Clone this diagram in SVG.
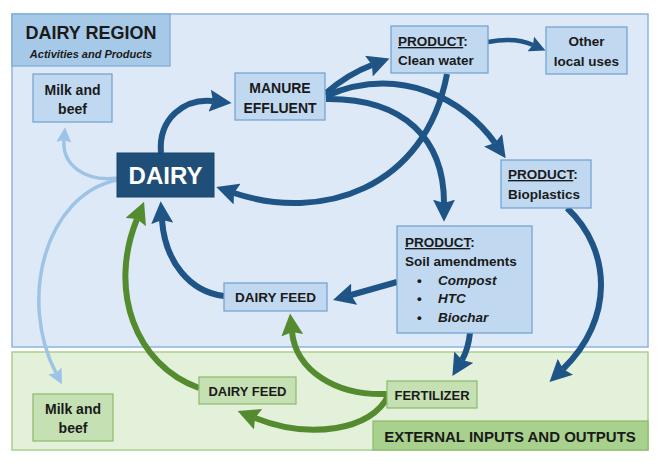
<svg xmlns="http://www.w3.org/2000/svg" width="660" height="468" viewBox="0 0 660 468">
<defs>
<style>
text{font-family:"Liberation Sans",Arial,sans-serif;font-weight:bold;fill:#1a1a1a;}
.c{text-anchor:middle;}
.region-blue{fill:#dde9f6;stroke:#8db5dc;stroke-width:1.5;}
.region-green{fill:#e3f0da;stroke:#a9cf8f;stroke-width:1.5;}
.node{fill:#c0d9f0;stroke:#6e9fd0;stroke-width:1.2;}
.gnode{fill:#c5e0b3;stroke:#8ab96b;stroke-width:1.2;}
.dk{fill:none;stroke:#1f5486;stroke-width:6;}
.dks{fill:none;stroke:#1f5486;stroke-width:4.5;}
.gr{fill:none;stroke:#558b2f;stroke-width:6;}
.lb{fill:none;stroke:#9dc3e6;stroke-width:3.5;}
</style>
<marker id="ahB" viewBox="0 0 20 20" markerUnits="userSpaceOnUse" markerWidth="22" markerHeight="22" refX="3" refY="10" orient="auto"><path d="M0,0 L20,10 L0,20 L3,10 z" fill="#1f5486"/></marker>
<marker id="ahBs" viewBox="0 0 20 20" markerUnits="userSpaceOnUse" markerWidth="16" markerHeight="16" refX="3" refY="10" orient="auto"><path d="M0,0 L20,10 L0,20 L3,10 z" fill="#1f5486"/></marker>
<marker id="ahG" viewBox="0 0 20 20" markerUnits="userSpaceOnUse" markerWidth="22" markerHeight="22" refX="3" refY="10" orient="auto"><path d="M0,0 L20,10 L0,20 L3,10 z" fill="#558b2f"/></marker>
<marker id="ahL" viewBox="0 0 20 20" markerUnits="userSpaceOnUse" markerWidth="15" markerHeight="15" refX="3" refY="10" orient="auto"><path d="M0,0 L20,10 L0,20 L3,10 z" fill="#9dc3e6"/></marker>
</defs>
<rect width="660" height="468" fill="#ffffff"/>
<g id="regions">
<rect class="region-blue" x="12" y="14" width="636" height="333"/>
<rect class="region-green" x="12" y="352" width="636" height="98"/>
</g>
<g id="dairy-region-label">
<rect x="12" y="14" width="158" height="52" fill="#a7c9e8" stroke="#7aaad6" stroke-width="1.2"/>
<text x="91" y="39" class="c" font-size="18">DAIRY REGION</text>
<text x="91" y="58" class="c" font-size="11" font-style="italic">Activities and Products</text>
</g>
<g id="external-label">
<rect x="373" y="421" width="275" height="29" fill="#a9d18e" stroke="#8ab96b" stroke-width="1.2"/>
<text x="510" y="442" class="c" font-size="15">EXTERNAL INPUTS AND OUTPUTS</text>
</g>
<g id="connectors">
<path class="dk" d="M161,153 C158,118 185,98 213,101" marker-end="url(#ahB)"/>
<path class="dk" d="M326,93 Q348,74 372,65" marker-end="url(#ahB)"/>
<path class="dks" d="M488,42 Q515,37 533,45" marker-end="url(#ahBs)"/>
<path class="dk" d="M326,96 C400,64 465,100 495,143" marker-end="url(#ahB)"/>
<path class="dk" d="M326,99 C405,98 444,140 444,203" marker-end="url(#ahB)"/>
<path class="dk" d="M447,74 C425,190 320,222 234,193" marker-end="url(#ahB)"/>
<path class="dk" d="M397,282 Q376,288 351,295" marker-end="url(#ahB)"/>
<path class="dk" d="M224,296 C190,292 165,262 162,220" marker-end="url(#ahB)"/>
<path class="dk" d="M470,333 Q468,350 462,360" marker-end="url(#ahB)"/>
<path class="dk" d="M567,208 C612,250 614,320 563,369" marker-end="url(#ahB)"/>
<path class="gr" d="M387,394 C335,396 296,370 292,332" marker-end="url(#ahG)"/>
<path class="gr" d="M388,396 C372,430 310,440 255,418" marker-end="url(#ahG)"/>
<path class="gr" d="M199,388 C135,365 108,290 137,219" marker-end="url(#ahG)"/>
<path class="lb" d="M117,178 C85,182 62,165 64,140" marker-end="url(#ahL)"/>
<path class="lb" d="M117,180 C45,195 18,300 56,373" marker-end="url(#ahL)"/>
</g>
<g id="dairy">
<rect x="117" y="153" width="97" height="44" fill="#1f4e79" stroke="#1a446b" stroke-width="1"/>
<text x="165.5" y="184" class="c" font-size="24" style="fill:#ffffff">DAIRY</text>
</g>
<g id="milk-beef-top">
<rect class="node" x="33" y="74" width="79" height="48"/>
<text x="72.5" y="95" class="c" font-size="14">Milk and</text>
<text x="72.5" y="114" class="c" font-size="14">beef</text>
</g>
<g id="manure-effluent">
<rect class="node" x="235" y="73" width="90" height="47"/>
<text x="280" y="93" class="c" font-size="14">MANURE</text>
<text x="280" y="113" class="c" font-size="14">EFFLUENT</text>
</g>
<g id="clean-water">
<rect class="node" x="391" y="26" width="97" height="47"/>
<text x="398" y="46" font-size="13.5"><tspan text-decoration="underline">PRODUCT</tspan>:</text>
<text x="398" y="65" font-size="13.5">Clean water</text>
</g>
<g id="other-uses">
<rect class="node" x="546" y="27" width="81" height="47"/>
<text x="586.5" y="46" class="c" font-size="13.5">Other</text>
<text x="586.5" y="66" class="c" font-size="13.5">local uses</text>
</g>
<g id="bioplastics">
<rect class="node" x="501" y="160" width="90" height="48"/>
<text x="508" y="179" font-size="13.5"><tspan text-decoration="underline">PRODUCT</tspan>:</text>
<text x="508" y="199" font-size="13.5">Bioplastics</text>
</g>
<g id="soil-amendments">
<rect class="node" x="397" y="226" width="135" height="107"/>
<text x="405" y="247" font-size="13.5"><tspan text-decoration="underline">PRODUCT</tspan>:</text>
<text x="405" y="266" font-size="13.5">Soil amendments</text>
<text x="417" y="285" font-size="13.5">•</text>
<text x="438" y="285" font-size="13.5" font-style="italic">Compost</text>
<text x="417" y="303" font-size="13.5">•</text>
<text x="438" y="303" font-size="13.5" font-style="italic">HTC</text>
<text x="417" y="322" font-size="13.5">•</text>
<text x="438" y="322" font-size="13.5" font-style="italic">Biochar</text>
</g>
<g id="dairy-feed-top">
<rect class="node" x="224" y="283" width="103" height="28"/>
<text x="275.5" y="302" class="c" font-size="13.5">DAIRY FEED</text>
</g>
<g id="dairy-feed-bottom">
<rect class="gnode" x="199" y="377" width="97" height="27"/>
<text x="247.5" y="396" class="c" font-size="13">DAIRY FEED</text>
</g>
<g id="fertilizer">
<rect class="gnode" x="387" y="381" width="90" height="27"/>
<text x="432" y="400" class="c" font-size="13">FERTILIZER</text>
</g>
<g id="milk-beef-bottom">
<rect class="gnode" x="33" y="394" width="80" height="47"/>
<text x="73" y="414" class="c" font-size="14">Milk and</text>
<text x="73" y="433" class="c" font-size="14">beef</text>
</g>
</svg>
